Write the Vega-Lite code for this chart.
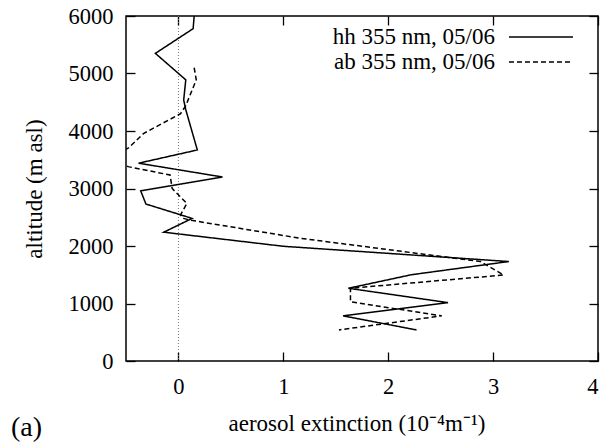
{
  "$schema": "https://vega.github.io/schema/vega-lite/v6.json",
  "width": 472,
  "height": 345,
  "autosize": {"type": "none"},
  "padding": {"left": 126, "top": 16, "right": 6, "bottom": 86},
  "background": "white",
  "config": {
    "view": {"stroke": "black", "strokeWidth": 1.5},
    "font": "Liberation Serif, Times New Roman, serif",
    "axis": {
      "labelFont": "Liberation Serif, Times New Roman, serif",
      "titleFont": "Liberation Serif, Times New Roman, serif",
      "labelFontSize": 22.5,
      "titleFontSize": 23,
      "titleFontWeight": "normal",
      "labelColor": "black",
      "titleColor": "black",
      "tickColor": "black",
      "tickWidth": 1.3,
      "tickSize": 9,
      "domain": false,
      "grid": false
    },
    "legend": {
      "orient": "none",
      "legendX": 402,
      "legendY": 8,
      "padding": 0,
      "rowPadding": 0,
      "labelAlign": "right",
      "labelOffset": -59,
      "symbolType": "M-2.667,0H2.667",
      "symbolSize": 576,
      "symbolStrokeWidth": 1.5,
      "symbolStrokeColor": "black",
      "symbolFillColor": "transparent",
      "labelFont": "Liberation Serif, Times New Roman, serif",
      "labelFontSize": 23,
      "labelColor": "black",
      "labelLimit": 400
    }
  },
  "title": {
    "text": "(a)",
    "orient": "bottom",
    "anchor": "start",
    "frame": "bounds",
    "font": "Liberation Serif, Times New Roman, serif",
    "fontSize": 28,
    "fontWeight": "normal",
    "color": "black",
    "dx": -12,
    "dy": -25
  },
  "data": {
    "values": [
      {"series": "hh 355 nm, 05/06", "i": 1, "ext": 0.15, "alt": 6000},
      {"series": "hh 355 nm, 05/06", "i": 2, "ext": 0.14, "alt": 5780},
      {"series": "hh 355 nm, 05/06", "i": 3, "ext": -0.22, "alt": 5350},
      {"series": "hh 355 nm, 05/06", "i": 4, "ext": 0.07, "alt": 4890},
      {"series": "hh 355 nm, 05/06", "i": 5, "ext": 0.05, "alt": 4540},
      {"series": "hh 355 nm, 05/06", "i": 6, "ext": 0.07, "alt": 4370},
      {"series": "hh 355 nm, 05/06", "i": 7, "ext": 0.18, "alt": 3670},
      {"series": "hh 355 nm, 05/06", "i": 8, "ext": -0.38, "alt": 3440},
      {"series": "hh 355 nm, 05/06", "i": 9, "ext": 0.42, "alt": 3200},
      {"series": "hh 355 nm, 05/06", "i": 10, "ext": -0.36, "alt": 2960},
      {"series": "hh 355 nm, 05/06", "i": 11, "ext": -0.31, "alt": 2730},
      {"series": "hh 355 nm, 05/06", "i": 12, "ext": 0.13, "alt": 2480},
      {"series": "hh 355 nm, 05/06", "i": 13, "ext": -0.14, "alt": 2240},
      {"series": "hh 355 nm, 05/06", "i": 14, "ext": 1.0, "alt": 1995},
      {"series": "hh 355 nm, 05/06", "i": 15, "ext": 3.15, "alt": 1730},
      {"series": "hh 355 nm, 05/06", "i": 16, "ext": 2.22, "alt": 1500},
      {"series": "hh 355 nm, 05/06", "i": 17, "ext": 1.62, "alt": 1265},
      {"series": "hh 355 nm, 05/06", "i": 18, "ext": 2.57, "alt": 1015},
      {"series": "hh 355 nm, 05/06", "i": 19, "ext": 1.57, "alt": 785},
      {"series": "hh 355 nm, 05/06", "i": 20, "ext": 2.27, "alt": 540},
      {"series": "ab 355 nm, 05/06", "i": 1, "ext": 0.15, "alt": 5100},
      {"series": "ab 355 nm, 05/06", "i": 2, "ext": 0.17, "alt": 4890},
      {"series": "ab 355 nm, 05/06", "i": 3, "ext": 0.07, "alt": 4440},
      {"series": "ab 355 nm, 05/06", "i": 4, "ext": 0.02, "alt": 4300},
      {"series": "ab 355 nm, 05/06", "i": 5, "ext": -0.33, "alt": 3960},
      {"series": "ab 355 nm, 05/06", "i": 6, "ext": -0.48, "alt": 3700},
      {"series": "ab 355 nm, 05/06", "i": 7, "ext": -0.65, "alt": 3550},
      {"series": "ab 355 nm, 05/06", "i": 8, "ext": -0.48, "alt": 3380},
      {"series": "ab 355 nm, 05/06", "i": 9, "ext": -0.08, "alt": 3235},
      {"series": "ab 355 nm, 05/06", "i": 10, "ext": -0.06, "alt": 3000},
      {"series": "ab 355 nm, 05/06", "i": 11, "ext": 0.08, "alt": 2740},
      {"series": "ab 355 nm, 05/06", "i": 12, "ext": 0.02, "alt": 2540},
      {"series": "ab 355 nm, 05/06", "i": 13, "ext": 0.05, "alt": 2480},
      {"series": "ab 355 nm, 05/06", "i": 14, "ext": 0.11, "alt": 2450},
      {"series": "ab 355 nm, 05/06", "i": 15, "ext": 1.16, "alt": 2135},
      {"series": "ab 355 nm, 05/06", "i": 16, "ext": 2.88, "alt": 1730},
      {"series": "ab 355 nm, 05/06", "i": 17, "ext": 3.1, "alt": 1495},
      {"series": "ab 355 nm, 05/06", "i": 18, "ext": 1.64, "alt": 1265},
      {"series": "ab 355 nm, 05/06", "i": 19, "ext": 1.64, "alt": 1030},
      {"series": "ab 355 nm, 05/06", "i": 20, "ext": 2.51, "alt": 785},
      {"series": "ab 355 nm, 05/06", "i": 21, "ext": 1.53, "alt": 540}
    ]
  },
  "layer": [
    {
      "data": {"values": [{"zero": 0}]},
      "mark": {"type": "rule", "color": "#777777", "strokeDash": [1, 2], "strokeWidth": 1},
      "encoding": {
        "x": {"field": "zero", "type": "quantitative", "scale": {"domain": [-0.5, 4], "nice": false, "zero": false}, "axis": null}
      }
    },
    {
      "mark": {"type": "line", "color": "black", "strokeWidth": 1.5, "clip": true},
      "encoding": {
        "x": {
          "field": "ext", "type": "quantitative",
          "scale": {"domain": [-0.5, 4], "nice": false, "zero": false},
          "axis": {"orient": "bottom", "values": [0, 1, 2, 3, 4], "ticks": false, "labelPadding": 14, "title": "aerosol extinction (10⁻⁴m⁻¹)", "titleAlign": "left", "titleX": 102, "titleY": 62, "titleBaseline": "middle"}
        },
        "y": {
          "field": "alt", "type": "quantitative",
          "scale": {"domain": [0, 6000], "nice": false},
          "axis": {"orient": "left", "values": [0, 1000, 2000, 3000, 4000, 5000, 6000], "format": "d", "ticks": false, "labelPadding": 13, "labelBaseline": "middle", "title": "altitude (m asl)", "titlePadding": 22}
        },
        "strokeDash": {
          "field": "series", "type": "nominal",
          "scale": {"domain": ["hh 355 nm, 05/06", "ab 355 nm, 05/06"], "range": [[1, 0], [5, 3]]},
          "legend": {"title": null}
        },
        "order": {"field": "i", "type": "quantitative"}
      }
    },
    {
      "mark": {"type": "point", "opacity": 0},
      "encoding": {
        "x": {"field": "ext", "type": "quantitative", "axis": {"orient": "top", "offset": -345, "values": [0, 1, 2, 3, 4], "labels": false, "title": null}},
        "y": {"field": "alt", "type": "quantitative", "axis": {"orient": "right", "offset": -472, "values": [0, 1000, 2000, 3000, 4000, 5000, 6000], "labels": false, "title": null}}
      }
    },
    {
      "mark": {"type": "point", "opacity": 0},
      "encoding": {
        "x": {"field": "ext", "type": "quantitative", "axis": {"orient": "bottom", "offset": -345, "values": [0, 1, 2, 3, 4], "labels": false, "title": null}},
        "y": {"field": "alt", "type": "quantitative", "axis": {"orient": "left", "offset": -472, "values": [0, 1000, 2000, 3000, 4000, 5000, 6000], "labels": false, "title": null}}
      }
    }
  ],
  "resolve": {"axis": {"x": "independent", "y": "independent"}}
}
